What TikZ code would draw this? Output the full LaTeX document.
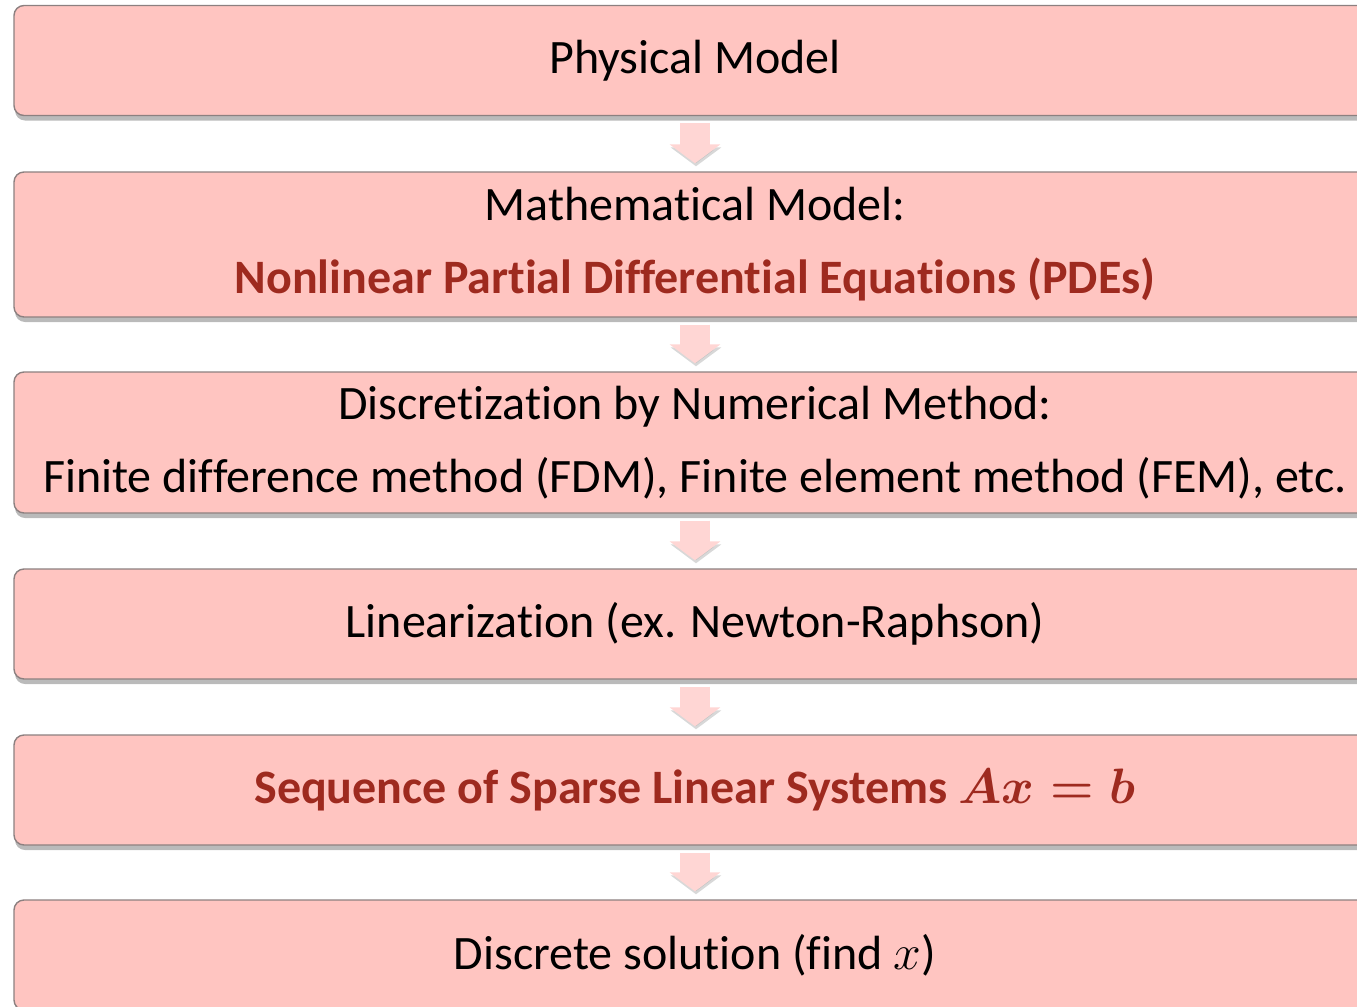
\documentclass[tikz,border=0pt]{standalone}
\usepackage{amsmath}
\usepackage{fontspec}
\setmainfont{Carlito}[Ligatures=NoCommon]
\usetikzlibrary{positioning,shadows,arrows.meta}
\definecolor{boxfill}{RGB}{255,197,193}
\definecolor{boxline}{RGB}{140,128,128}
\definecolor{arrowfill}{RGB}{255,214,212}
\definecolor{accent}{RGB}{158,42,31}

\begin{document}
\begin{tikzpicture}[x=0.5pt, y=-0.5pt,
  stage/.style={rounded corners=5pt, draw=boxline, line width=0.7pt,
    fill=boxfill, minimum width=681pt, minimum height=55pt, align=center,
    font=\fontsize{24}{36.5}\selectfont,
    drop shadow={shadow xshift=0.5pt, shadow yshift=-2.5pt,
      opacity=0.45, fill=black!60}},
  flow/.style={-{Triangle[width=25pt, length=9.5pt]}, line width=15pt,
    draw=arrowfill, shorten <=3.5pt, shorten >=4pt,
    preaction={draw=black!30, opacity=0.5,
      transform canvas={shift={(0.5pt,-1.5pt)}}}},
]
  \useasboundingbox (0,0) rectangle (1357,1007);

  % Stages
  \node[stage] (phys) at (695,60.5) {Physical Model};
  \node[stage, minimum height=72.5pt] (math) at (695,244.5)
    {Mathematical Model:\\
    \textcolor{accent}{\bfseries Nonlinear Partial Differential Equations (PDEs)}};
  \node[stage, minimum height=70.5pt] (discr) at (695,442.5)
    {Discretization by Numerical Method:\\
    Finite difference method (FDM), Finite element method (FEM), etc.};
  \node[stage] (linear) at (695,624) {Linearization (ex. Newton-Raphson)};
  \node[stage] (sparse) at (695,790)
    {\textcolor{accent}{\bfseries Sequence of Sparse Linear Systems
    $\boldsymbol{Ax=b}$}};
  \node[stage] (sol) at (695,955) {Discrete solution (find $x$)};

  % Block arrows
  \draw[flow] (phys.south) -- (math.north);
  \draw[flow] (math.south) -- (discr.north);
  \draw[flow] (discr.south) -- (linear.north);
  \draw[flow] (linear.south) -- (sparse.north);
  \draw[flow] (sparse.south) -- (sol.north);
\end{tikzpicture}
\end{document}
